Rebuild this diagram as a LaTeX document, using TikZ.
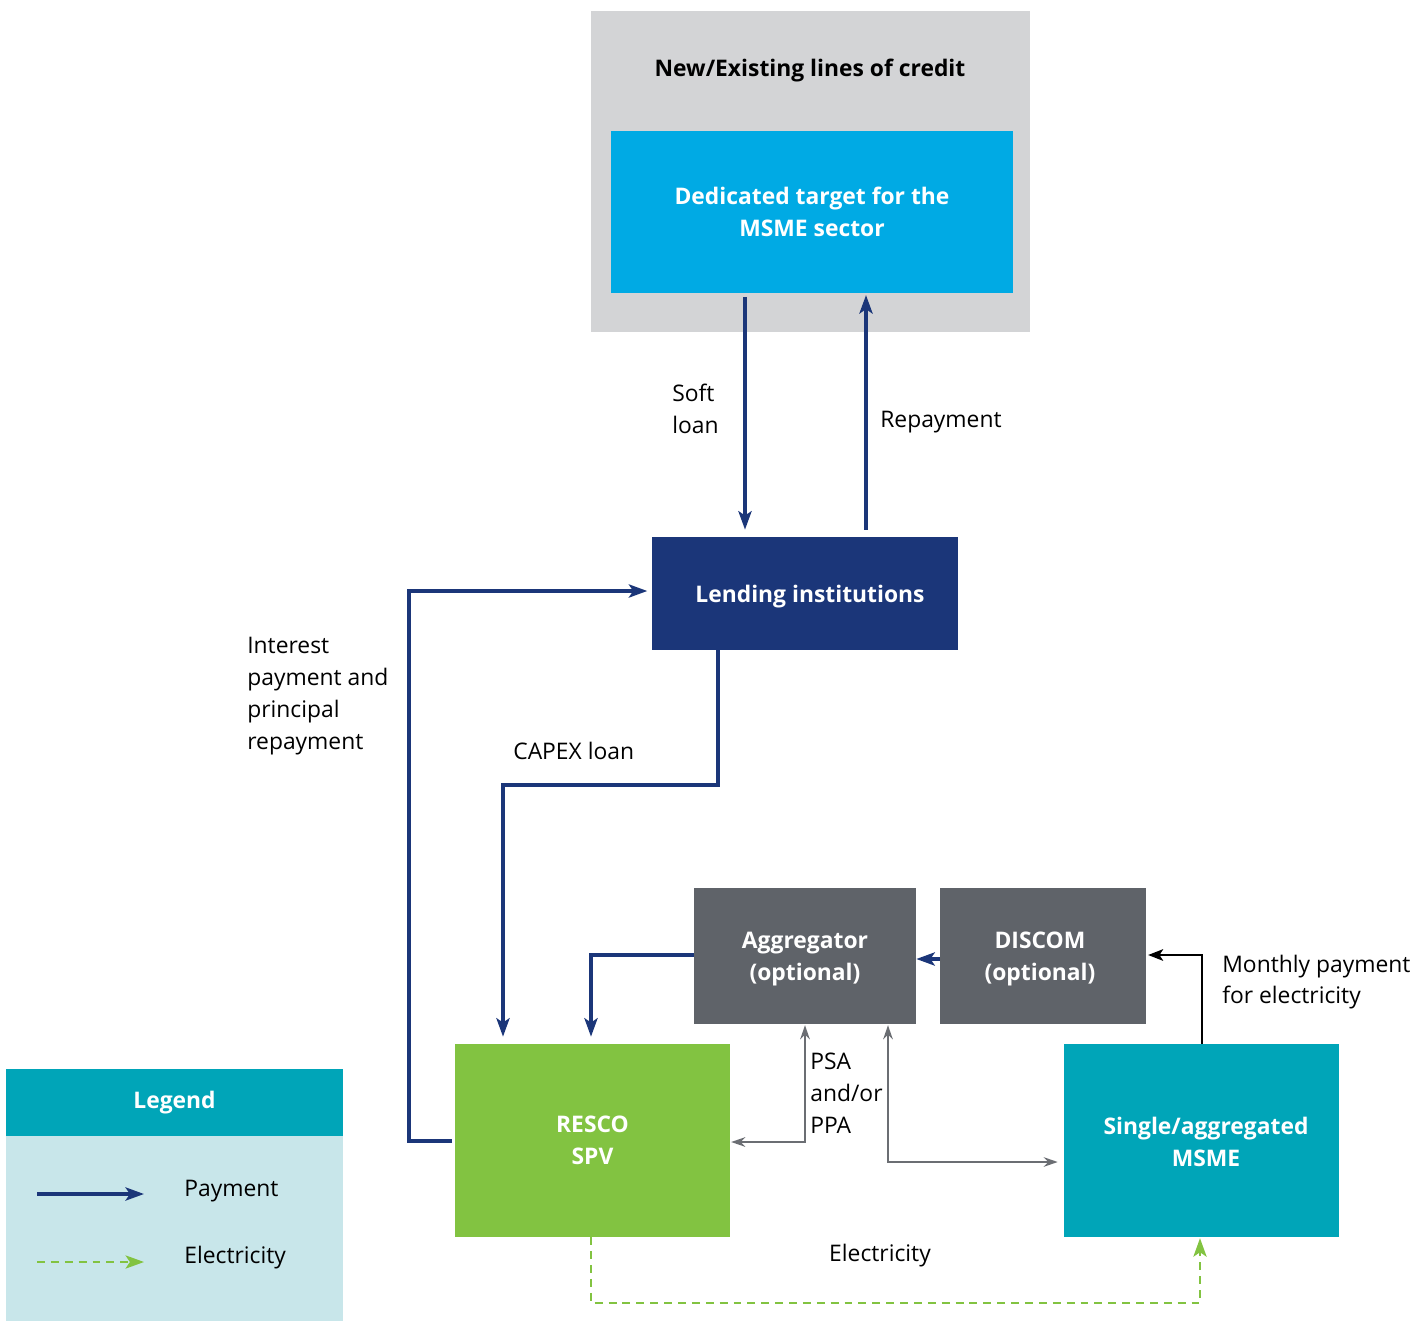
\documentclass[tikz,border=0pt]{standalone}
\usepackage{fontspec}
\setmainfont{Open Sans}
\usetikzlibrary{arrows.meta,fit}
\definecolor{credgray}{HTML}{D3D4D6}
\definecolor{skyblue}{HTML}{00AAE4}
\definecolor{navy}{HTML}{1B3679}
\definecolor{slate}{HTML}{5F6369}
\definecolor{leaf}{HTML}{82C341}
\definecolor{tealbox}{HTML}{00A5B8}
\definecolor{legbody}{HTML}{C8E6EA}
\definecolor{arrgray}{HTML}{6B6E73}
\newcommand{\dfont}{\fontsize{13}{18.1}\selectfont}
\begin{document}
\begin{tikzpicture}[x=0.02cm,y=-0.02cm,
  box/.style={inner sep=0, draw=none, text=white, font=\bfseries\dfont, align=center},
  pay/.style={navy, line width=1.9pt, -{Stealth[length=10.5pt,width=7.5pt,inset=2.5pt]}},
  blk/.style={black, line width=1.6pt, -{Stealth[length=8.5pt,width=6.5pt,inset=2pt]}},
  grarrow/.style={arrgray, line width=1pt, {Stealth[length=8pt,width=5.5pt]}-{Stealth[length=8pt,width=5.5pt]}},
  elec/.style={leaf, line width=1.3pt, dash pattern=on 4.5pt off 3.4pt, -{Stealth[length=10.5pt,width=7.5pt,inset=2.5pt]}},
  lbl/.style={font=\dfont, align=left, inner sep=0, anchor=west, text=black}
]
\useasboundingbox (0,0) rectangle (1428,1322);
% boxes
\node[fill=credgray, inner sep=0, fit={(591,11) (1030,332)}] (credit) {};
\node[font=\bfseries\dfont, text=black, inner sep=0] (credittitle) at (810,71) {New/Existing lines of credit};
\node[box, fill=skyblue, minimum width=8.04cm, minimum height=3.24cm] (target) at (812,212) {Dedicated target for the\\MSME sector};
\node[box, fill=navy, minimum width=6.12cm, minimum height=2.26cm] (lend) at (805,593.5) {};
\node[box] (lendtext) at (810,597) {Lending institutions};
\node[box, fill=slate, minimum width=4.44cm, minimum height=2.72cm] (agg) at (805,956) {};
\node[box] (aggtext) at (805,959) {Aggregator\\(optional)};
\node[box, fill=slate, minimum width=4.12cm, minimum height=2.72cm] (discom) at (1043,956) {};
\node[box] (discomtext) at (1040,959) {DISCOM\\(optional)};
\node[box, fill=leaf, minimum width=5.5cm, minimum height=3.86cm] (resco) at (592.5,1140.5) {RESCO\\SPV};
\node[box, fill=tealbox, minimum width=5.5cm, minimum height=3.86cm] (msme) at (1201.5,1140.5) {};
\node[box] (msmetext) at (1206,1142) {Single/aggregated\\MSME};
% legend
\node[box, fill=tealbox, minimum width=6.74cm, minimum height=1.34cm] (leghead) at (174.5,1102.5) {Legend};
\node[fill=legbody, inner sep=0, fit={(6,1136) (343,1321)}] (legbody) {};
\coordinate (pa) at (37,1194);
\coordinate (pb) at (144,1194);
\coordinate (ea) at (37,1262);
\coordinate (eb) at (144,1262);
\draw[pay] (pa) -- (pb);
\draw[elec] (ea) -- (eb);
\node[lbl] (legpay) at (184,1191) {Payment};
\node[lbl] (legelec) at (184,1258) {Electricity};
% connectors
\draw[pay, shorten <=2pt, shorten >=4pt] (target.south -| 745,0) -- (lend.north -| 745,0);
\draw[pay, shorten <=4pt, shorten >=1pt] (lend.north -| 866,0) -- (target.south -| 866,0);
\draw[pay, shorten <=1.5pt, shorten >=2.5pt] (resco.west |- 0,1141) -- (409,1141) -- (409,591) -- (lend.west |- 0,591);
\draw[pay, shorten >=4pt] (lend.south -| 718,0) -- (718,785) -- (503,785) -- (resco.north -| 503,0);
\draw[pay, shorten >=4pt] (agg.west |- 0,955) -- (591,955) -- (resco.north -| 591,0);
\draw[pay] (discom.west |- 0,959) -- (agg.east |- 0,959);
\draw[blk, shorten >=1pt] (msme.north -| 1202,0) -- (1202,955) -- (discom.east |- 0,955);
\draw[grarrow, shorten <=0.5pt, shorten >=0.5pt] (agg.south -| 805,0) -- (805,1142) -- (resco.east |- 0,1142);
\draw[grarrow, shorten <=0.5pt, shorten >=3.4pt] (agg.south -| 888,0) -- (888,1162) -- (msme.west |- 0,1162);
\draw[elec, shorten >=0.5pt] (resco.south -| 591,0) -- (591,1303) -- (1200,1303) -- (msme.south -| 1200,0);
% labels
\node[lbl] (lsoft) at (672,409) {Soft\\loan};
\node[lbl] (lrepay) at (880,422) {Repayment};
\node[lbl] (linterest) at (247,696) {Interest\\payment and\\principal\\repayment};
\node[lbl] (lcapex) at (513,751) {CAPEX loan};
\node[lbl] (lpsa) at (810,1093) {PSA\\and/or\\PPA};
\node[lbl] (lmonthly) at (1222,982) {Monthly payment\\for electricity};
\node[font=\dfont, inner sep=0] (lelec) at (880,1256) {Electricity};
\end{tikzpicture}
\end{document}
